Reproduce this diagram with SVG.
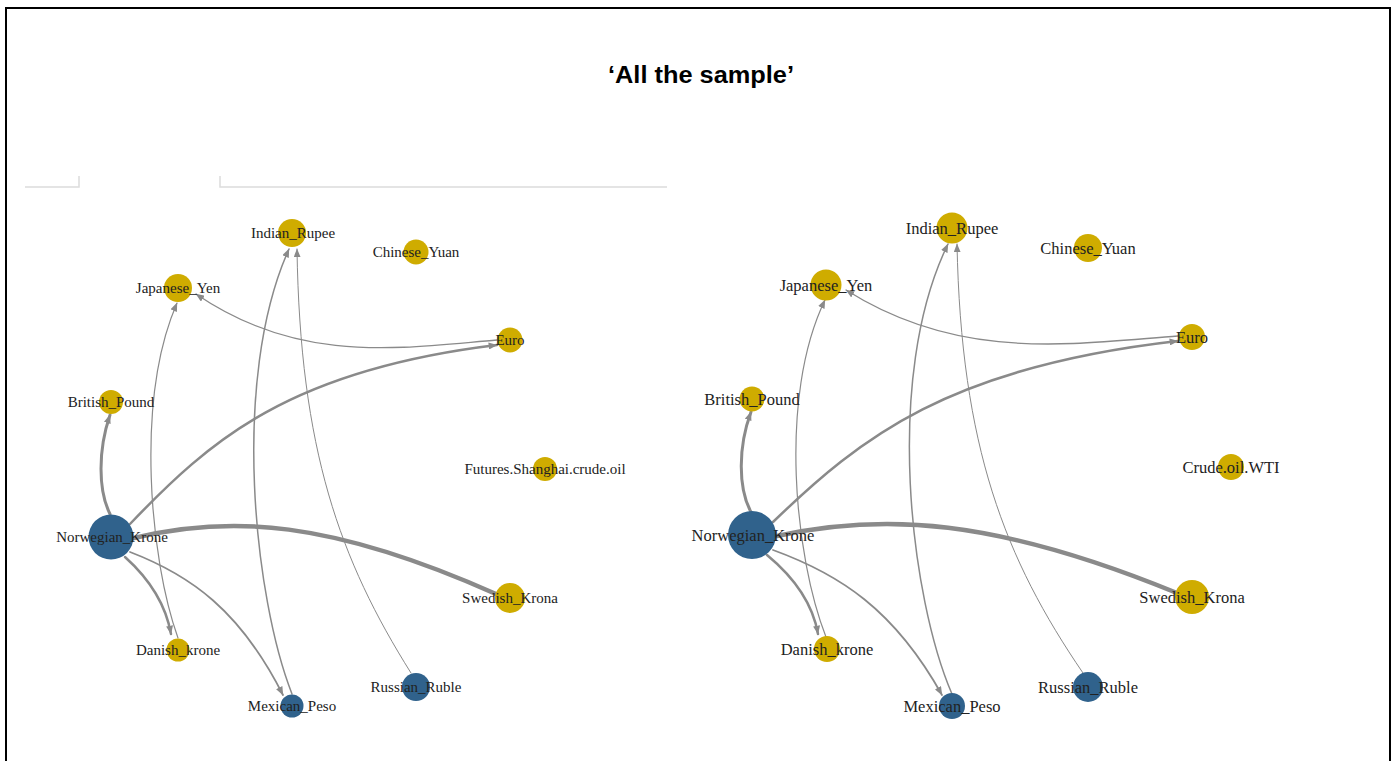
<svg xmlns="http://www.w3.org/2000/svg" width="1399" height="761" viewBox="0 0 1399 761">
  <style>
    .frame{fill:none;stroke:#000;stroke-width:2}
    .rule{fill:none;stroke:#dcdcdc;stroke-width:1.5}
    .title{font-family:"Liberation Sans",Arial,sans-serif;font-weight:bold;font-size:23px;fill:#000}
    .e{fill:none;stroke:#8a8a8a;stroke-linecap:round}
    .gold{fill:#CFAC00}
    .blue{fill:#30628C}
    .lbl{font-family:"Liberation Serif","Times New Roman",serif;fill:#222;text-anchor:middle;dominant-baseline:central}
    .sL{font-size:15px}
    .sR{font-size:16.5px}
  </style>
  <defs>
    <marker id="arr" viewBox="0 0 10 8" markerWidth="9" markerHeight="7" refX="9.5" refY="4" orient="auto" markerUnits="userSpaceOnUse">
      <path d="M0,0 L10,4 L0,8 z" fill="#8a8a8a"/>
    </marker>
  </defs>
  <rect width="1399" height="761" fill="#fff"/>
  <rect class="frame" x="6" y="8" width="1384" height="770"/>
  <path class="rule" d="M25,187 H79 V176 M220,176 V187 H667"/>
  <text class="title" x="701" y="83" text-anchor="middle" textLength="186" lengthAdjust="spacingAndGlyphs">‘All the sample’</text>

  <g id="connectors">
    <!-- left graph -->
    <path class="e" d="M134,538 C230,515 330,520 496,594" stroke-width="4.5"/>
    <path class="e" d="M110,514 C98,490 98,450 110,415" stroke-width="3" marker-end="url(#arr)"/>
    <path class="e" d="M130,524 C210,440 290,370 497,345" stroke-width="2.5" marker-end="url(#arr)"/>
    <path class="e" d="M125,557 C145,575 165,600 171,634" stroke-width="2.5" marker-end="url(#arr)"/>
    <path class="e" d="M130,552 C190,575 240,610 283,695" stroke-width="1.8" marker-end="url(#arr)"/>
    <path class="e" d="M292,694 C255,600 230,380 289,249" stroke-width="1.5" marker-end="url(#arr)"/>
    <path class="e" d="M411,673 C340,560 300,450 297,249" stroke-width="1" marker-end="url(#arr)"/>
    <path class="e" d="M178,638 C150,560 135,400 177,303" stroke-width="1.2" marker-end="url(#arr)"/>
    <path class="e" d="M497,340 C400,348 300,365 196,294" stroke-width="1.3" marker-end="url(#arr)"/>
    <!-- right graph -->
    <path class="e" d="M777,536 C883,513 994,518 1177,593" stroke-width="4.5"/>
    <path class="e" d="M751,512 C738,488 738,447 751,412" stroke-width="3" marker-end="url(#arr)"/>
    <path class="e" d="M773,522 C861,437 949,367 1178,341" stroke-width="2.5" marker-end="url(#arr)"/>
    <path class="e" d="M767,555 C790,574 812,599 818,634" stroke-width="2.5" marker-end="url(#arr)"/>
    <path class="e" d="M773,550 C839,574 894,609 942,695" stroke-width="1.8" marker-end="url(#arr)"/>
    <path class="e" d="M952,694 C911,599 883,377 948,244" stroke-width="1.5" marker-end="url(#arr)"/>
    <path class="e" d="M1083,673 C1005,559 961,447 957,244" stroke-width="1" marker-end="url(#arr)"/>
    <path class="e" d="M826,637 C795,558 778,397 825,300" stroke-width="1.2" marker-end="url(#arr)"/>
    <path class="e" d="M1178,336 C1071,344 960,362 846,290" stroke-width="1.3" marker-end="url(#arr)"/>
  </g>

  <!-- left graph nodes -->
  <g id="L-Indian_Rupee"><circle class="gold" cx="292" cy="233" r="14"/><text class="lbl sL" x="293" y="233">Indian_Rupee</text></g>
  <g id="L-Japanese_Yen"><circle class="gold" cx="178" cy="288" r="14"/><text class="lbl sL" x="178" y="288">Japanese_Yen</text></g>
  <g id="L-Chinese_Yuan"><circle class="gold" cx="416" cy="252" r="12.5"/><text class="lbl sL" x="416" y="252">Chinese_Yuan</text></g>
  <g id="L-British_Pound"><circle class="gold" cx="111" cy="402" r="12"/><text class="lbl sL" x="111" y="402">British_Pound</text></g>
  <g id="L-Euro"><circle class="gold" cx="510" cy="340" r="12.5"/><text class="lbl sL" x="510" y="340">Euro</text></g>
  <g id="L-Futures_Shanghai_crude_oil"><circle class="gold" cx="545" cy="469" r="12"/><text class="lbl sL" x="545" y="469">Futures.Shanghai.crude.oil</text></g>
  <g id="L-Norwegian_Krone"><circle class="blue" cx="111" cy="537" r="22.5"/><text class="lbl sL" x="112" y="537">Norwegian_Krone</text></g>
  <g id="L-Swedish_Krona"><circle class="gold" cx="510" cy="598" r="15"/><text class="lbl sL" x="510" y="598">Swedish_Krona</text></g>
  <g id="L-Danish_krone"><circle class="gold" cx="178" cy="650" r="11.5"/><text class="lbl sL" x="178" y="650">Danish_krone</text></g>
  <g id="L-Russian_Ruble"><circle class="blue" cx="416" cy="687" r="14"/><text class="lbl sL" x="416" y="687">Russian_Ruble</text></g>
  <g id="L-Mexican_Peso"><circle class="blue" cx="292" cy="706" r="11.5"/><text class="lbl sL" x="292" y="706">Mexican_Peso</text></g>

  <!-- right graph nodes -->
  <g id="R-Indian_Rupee"><circle class="gold" cx="952" cy="228" r="15.5"/><text class="lbl sR" x="952" y="228">Indian_Rupee</text></g>
  <g id="R-Japanese_Yen"><circle class="gold" cx="826" cy="285" r="15.5"/><text class="lbl sR" x="826" y="285">Japanese_Yen</text></g>
  <g id="R-Chinese_Yuan"><circle class="gold" cx="1088" cy="248" r="14"/><text class="lbl sR" x="1088" y="248">Chinese_Yuan</text></g>
  <g id="R-British_Pound"><circle class="gold" cx="752" cy="399" r="12.5"/><text class="lbl sR" x="752" y="399">British_Pound</text></g>
  <g id="R-Euro"><circle class="gold" cx="1192" cy="337" r="13"/><text class="lbl sR" x="1192" y="337">Euro</text></g>
  <g id="R-Crude_oil_WTI"><circle class="gold" cx="1231" cy="467" r="13"/><text class="lbl sR" x="1231" y="467">Crude.oil.WTI</text></g>
  <g id="R-Norwegian_Krone"><circle class="blue" cx="752" cy="535" r="24"/><text class="lbl sR" x="753" y="535">Norwegian_Krone</text></g>
  <g id="R-Swedish_Krona"><circle class="gold" cx="1192" cy="597" r="17"/><text class="lbl sR" x="1192" y="597">Swedish_Krona</text></g>
  <g id="R-Danish_krone"><circle class="gold" cx="827" cy="649" r="13"/><text class="lbl sR" x="827" y="649">Danish_krone</text></g>
  <g id="R-Russian_Ruble"><circle class="blue" cx="1088" cy="687" r="15"/><text class="lbl sR" x="1088" y="687">Russian_Ruble</text></g>
  <g id="R-Mexican_Peso"><circle class="blue" cx="952" cy="706" r="13"/><text class="lbl sR" x="952" y="706">Mexican_Peso</text></g>
</svg>
